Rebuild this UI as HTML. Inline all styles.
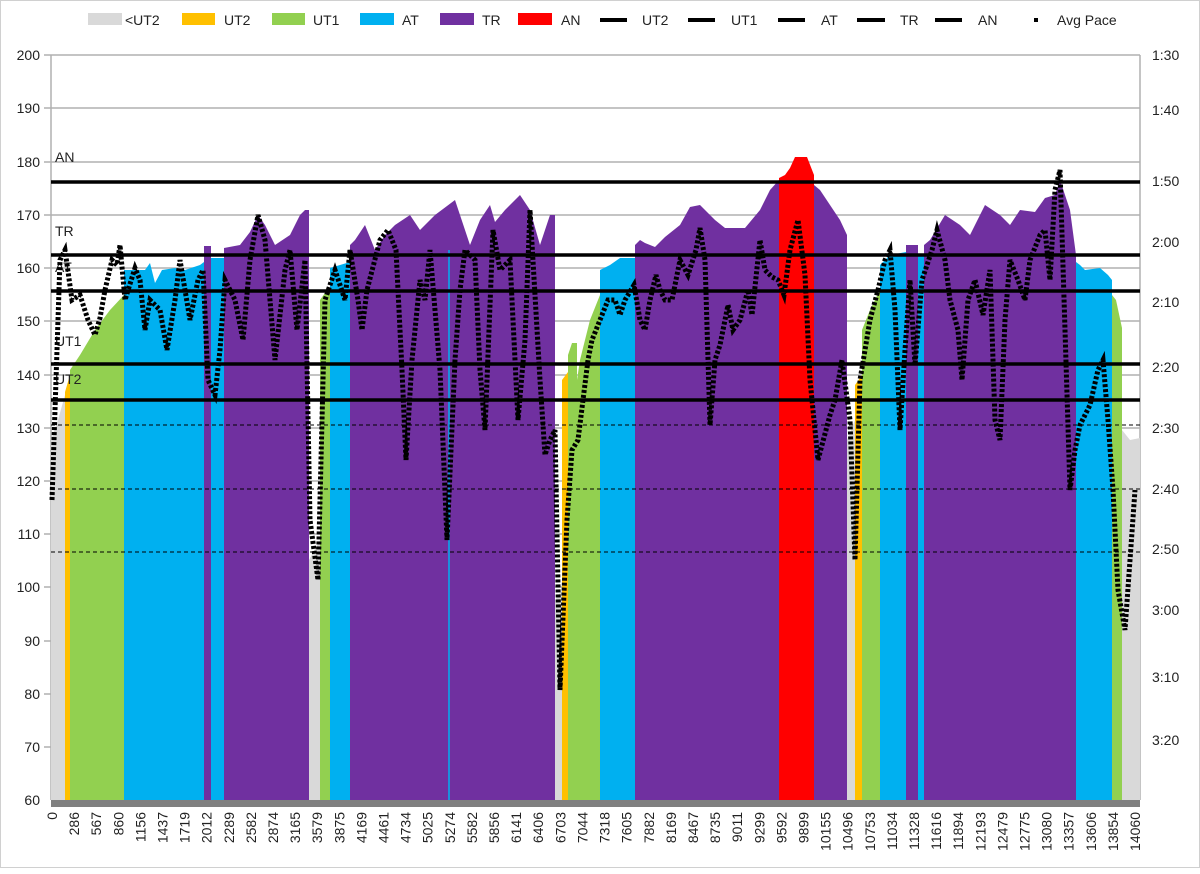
<!DOCTYPE html>
<html><head><meta charset="utf-8"><style>
html,body{margin:0;padding:0;background:#fff}
svg text{font-family:"Liberation Sans",sans-serif;font-size:14px;fill:#222}
</style></head><body>
<svg width="1200" height="869" viewBox="0 0 1200 869" xmlns="http://www.w3.org/2000/svg">
<rect x="0.5" y="0.5" width="1199" height="867" fill="#fff" stroke="#d0d0d0"/>
<!-- legend -->
<g>
<rect x="88" y="13" width="34" height="12" fill="#d9d9d9"/><text x="125" y="25">&lt;UT2</text>
<rect x="182" y="13" width="33" height="12" fill="#ffc000"/><text x="224" y="25">UT2</text>
<rect x="272" y="13" width="33" height="12" fill="#92d050"/><text x="313" y="25">UT1</text>
<rect x="360" y="13" width="34" height="12" fill="#00b0f0"/><text x="402" y="25">AT</text>
<rect x="440" y="13" width="34" height="12" fill="#7030a0"/><text x="482" y="25">TR</text>
<rect x="518" y="13" width="34" height="12" fill="#ff0000"/><text x="561" y="25">AN</text>
<g stroke="#000" stroke-width="4"><line x1="600" y1="20" x2="627" y2="20"/><line x1="688" y1="20" x2="715" y2="20"/><line x1="778" y1="20" x2="805" y2="20"/><line x1="857" y1="20" x2="885" y2="20"/><line x1="935" y1="20" x2="962" y2="20"/><line x1="1034" y1="20" x2="1038" y2="20"/></g>
<text x="642" y="25">UT2</text><text x="731" y="25">UT1</text><text x="821" y="25">AT</text><text x="900" y="25">TR</text><text x="978" y="25">AN</text><text x="1057" y="25">Avg Pace</text>
</g>
<!-- gridlines -->
<g stroke="#b0b0b0" stroke-width="1.5">
<line x1="44" y1="55" x2="1140" y2="55"/><line x1="44" y1="108" x2="1140" y2="108"/><line x1="44" y1="162" x2="1140" y2="162"/><line x1="44" y1="215" x2="1140" y2="215"/><line x1="44" y1="268" x2="1140" y2="268"/><line x1="44" y1="321" x2="1140" y2="321"/><line x1="44" y1="375" x2="1140" y2="375"/><line x1="44" y1="428" x2="1140" y2="428"/><line x1="44" y1="481" x2="1140" y2="481"/><line x1="44" y1="534" x2="1140" y2="534"/><line x1="44" y1="587" x2="1140" y2="587"/><line x1="44" y1="641" x2="1140" y2="641"/><line x1="44" y1="694" x2="1140" y2="694"/><line x1="44" y1="747" x2="1140" y2="747"/>
<line x1="51" y1="55" x2="51" y2="800"/><line x1="1140" y1="55" x2="1140" y2="800"/>
</g>
<!-- areas -->
<g>
<polygon fill="#d9d9d9" points="51,800 51,440 58,420 65,395 65,800"/>
<polygon fill="#ffc000" points="65,800 65,392 70,375 70,800"/>
<polygon fill="#92d050" points="70,800 70,370 80,355 95,330 110,310 124,295 124,800"/>
<polygon fill="#00b0f0" points="124,800 124,270 145,270 150,263 155,283 162,270 175,268 185,270 200,265 204,262 204,800"/>
<polygon fill="#7030a0" points="204,800 204,246 211,246 211,800"/>
<polygon fill="#00b0f0" points="211,800 211,258 224,258 224,800"/>
<polygon fill="#7030a0" points="224,800 224,248 240,245 250,232 258,215 265,225 275,245 290,235 300,215 305,210 309,210 309,800"/>
<polygon fill="#d9d9d9" points="309,800 309,560 320,540 320,800"/>
<polygon fill="#92d050" points="320,800 320,300 325,293 330,293 330,800"/>
<polygon fill="#00b0f0" points="330,800 330,268 340,265 350,262 350,800"/>
<polygon fill="#7030a0" points="350,800 350,245 355,240 365,225 375,250 385,235 395,225 410,215 420,230 435,215 455,200 460,215 470,245 480,220 490,205 495,222 505,210 520,195 530,210 540,245 550,215 555,215 555,800"/>
<line x1="449" y1="250" x2="449" y2="800" stroke="#00b0f0" stroke-width="1.5"/>
<polygon fill="#d9d9d9" points="555,800 555,600 562,590 562,800"/>
<polygon fill="#ffc000" points="562,800 562,380 568,372 568,800"/>
<polygon fill="#92d050" points="568,800 568,355 572,343 577,343 577,380 580,360 590,320 600,295 600,800"/>
<polygon fill="#00b0f0" points="600,800 600,270 610,265 620,258 635,258 635,800"/>
<polygon fill="#7030a0" points="635,800 635,245 640,240 645,243 655,247 665,237 680,225 690,207 700,205 715,220 725,228 745,228 760,210 765,200 770,190 779,180 779,800"/>
<polygon fill="#ff0000" points="779,800 779,178 785,175 790,168 795,157 807,157 814,175 814,800"/>
<polygon fill="#7030a0" points="814,800 814,185 820,190 830,205 840,220 847,235 847,800"/>
<polygon fill="#d9d9d9" points="847,800 847,440 855,420 855,800"/>
<polygon fill="#ffc000" points="855,800 855,385 862,375 862,800"/>
<polygon fill="#92d050" points="862,800 862,330 870,310 880,290 880,800"/>
<polygon fill="#00b0f0" points="880,800 880,265 890,255 906,252 906,800"/>
<polygon fill="#7030a0" points="906,800 906,245 918,245 918,800"/>
<polygon fill="#00b0f0" points="918,800 918,255 924,255 924,800"/>
<polygon fill="#7030a0" points="924,800 924,245 930,240 945,215 960,225 970,235 985,205 1000,215 1010,225 1020,210 1035,212 1045,198 1055,195 1060,180 1070,210 1076,255 1076,800"/>
<polygon fill="#00b0f0" points="1076,800 1076,262 1080,265 1085,270 1100,268 1108,275 1112,280 1112,800"/>
<polygon fill="#92d050" points="1112,800 1112,295 1116,300 1122,328 1122,800"/>
<polygon fill="#d9d9d9" points="1122,800 1122,430 1130,440 1140,438 1140,800"/>
</g>
<rect x="51" y="800" width="1089" height="7" fill="#808080"/>
<!-- threshold lines -->
<g stroke="#000" stroke-width="3.5">
<line x1="51" y1="182" x2="1140" y2="182"/><line x1="51" y1="255" x2="1140" y2="255"/><line x1="51" y1="291" x2="1140" y2="291"/><line x1="51" y1="364" x2="1140" y2="364"/><line x1="51" y1="400" x2="1140" y2="400"/>
</g>
<g stroke="#000" stroke-width="1" stroke-dasharray="4 3">
<line x1="51" y1="425" x2="1140" y2="425"/><line x1="51" y1="489" x2="1140" y2="489"/><line x1="51" y1="552" x2="1140" y2="552"/>
</g>
<text x="55" y="162">AN</text><text x="55" y="236">TR</text><text x="55" y="272">AT</text><text x="55" y="346">UT1</text><text x="55" y="384">UT2</text>
<!-- HR / pace curve -->
<polyline fill="none" stroke="#000" stroke-width="5" stroke-dasharray="3 2" points="52,500 60,260 65,250 72,300 80,295 88,320 95,335 100,318 105,290 112,260 117,265 120,245 125,300 135,268 140,280 145,330 150,300 160,310 167,350 175,300 180,260 190,320 198,280 203,270 208,380 215,395 220,350 225,280 235,300 243,340 250,260 258,215 265,240 275,360 285,270 290,250 297,330 305,260 310,520 318,580 325,300 335,270 345,300 350,250 358,300 362,330 367,290 380,240 388,230 396,250 402,370 406,460 412,360 420,280 425,300 430,250 440,370 447,540 455,360 460,290 465,250 475,260 480,370 485,430 493,230 500,270 510,260 518,420 525,340 530,210 540,380 545,455 550,440 555,430 560,690 567,520 572,450 578,440 583,400 588,360 592,340 598,325 604,310 608,300 615,300 620,315 625,300 634,285 640,320 645,330 650,300 656,275 660,290 665,300 672,300 680,260 688,275 696,250 700,228 705,260 710,425 715,360 720,345 728,305 733,330 740,320 748,290 752,315 760,240 765,270 772,277 778,280 784,295 790,250 798,220 805,275 810,380 818,460 830,415 835,400 842,360 850,420 855,560 860,380 865,350 870,320 878,290 885,260 890,250 895,310 900,430 905,350 910,280 915,365 922,280 932,250 937,230 945,260 950,300 958,330 962,380 968,300 975,280 983,315 990,270 995,420 1000,440 1005,320 1010,260 1018,280 1025,300 1030,260 1040,235 1045,230 1050,280 1055,190 1060,170 1065,330 1070,490 1075,450 1080,425 1090,405 1098,370 1103,360 1108,420 1113,490 1118,590 1125,630 1135,490"/>
<!-- left axis labels -->
<g text-anchor="end">
<text x="40" y="60">200</text><text x="40" y="113">190</text><text x="40" y="167">180</text><text x="40" y="220">170</text><text x="40" y="273">160</text><text x="40" y="326">150</text><text x="40" y="380">140</text><text x="40" y="433">130</text><text x="40" y="486">120</text><text x="40" y="539">110</text><text x="40" y="592">100</text><text x="40" y="646">90</text><text x="40" y="699">80</text><text x="40" y="752">70</text><text x="40" y="805">60</text>
</g>
<g>
<text x="1152" y="60">1:30</text><text x="1152" y="115">1:40</text><text x="1152" y="186">1:50</text><text x="1152" y="247">2:00</text><text x="1152" y="307">2:10</text><text x="1152" y="372">2:20</text><text x="1152" y="433">2:30</text><text x="1152" y="494">2:40</text><text x="1152" y="554">2:50</text><text x="1152" y="615">3:00</text><text x="1152" y="682">3:10</text><text x="1152" y="745">3:20</text>
</g>
<!-- x labels -->
<g text-anchor="end" id="xl"></g>
<script>
var L="0 286 567 860 1156 1437 1719 2012 2289 2582 2874 3165 3579 3875 4169 4461 4734 5025 5274 5582 5856 6141 6406 6703 7044 7318 7605 7882 8169 8467 8735 9011 9299 9592 9899 10155 10496 10753 11034 11328 11616 11894 12193 12479 12775 13080 13357 13606 13854 14060".split(" ");
var g=document.getElementById("xl"),ns="http://www.w3.org/2000/svg",s=(1135-52)/(L.length-1);
L.forEach(function(t,i){var e=document.createElementNS(ns,"text");var x=52+i*s+5;e.setAttribute("transform","translate("+x.toFixed(1)+",812) rotate(-90)");e.textContent=t;g.appendChild(e);});
</script>
</svg>
</body></html>
